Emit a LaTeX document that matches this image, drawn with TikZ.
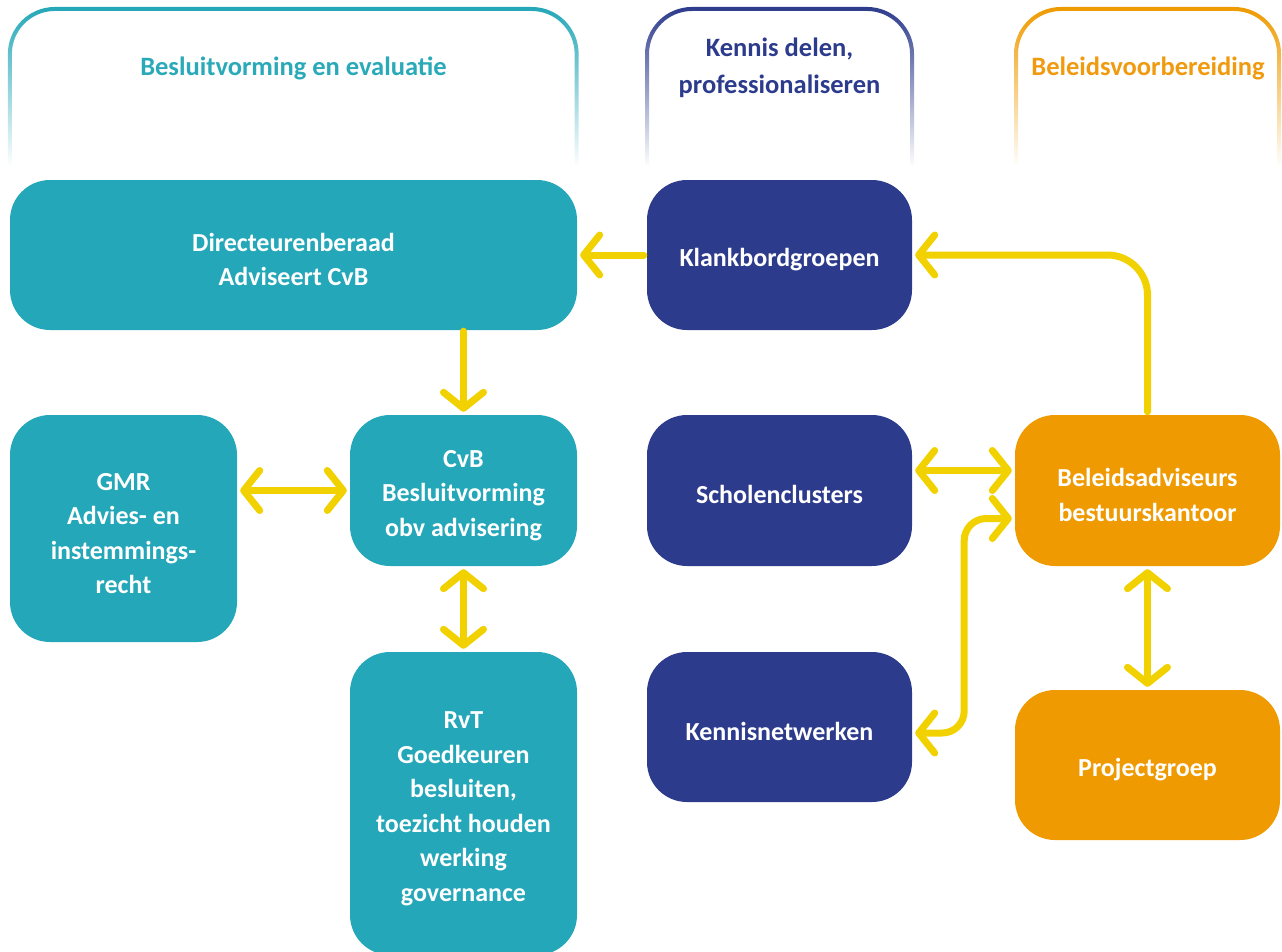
\documentclass[tikz,border=0pt]{standalone}
\usepackage{fontspec}
\setmainfont{Carlito}
\usetikzlibrary{arrows.meta,fadings}
\definecolor{cteal}{HTML}{24A7B8}
\definecolor{cnavy}{HTML}{2D3B8C}
\definecolor{corange}{HTML}{EE9A00}
\definecolor{cyellow}{HTML}{F2D100}
\definecolor{hteal}{HTML}{2AAAB9}
\definecolor{horange}{HTML}{F09A10}
\newcommand\topstrut{\rule{0pt}{27pt}}
\tikzfading[name=brfade, top color=transparent!0, bottom color=transparent!100]
\tikzset{
  box/.style={rounded corners=40pt, text=white, align=center,
    font=\bfseries\fontsize{26}{34.5}\selectfont, inner sep=0pt},
  tealbox/.style={box, fill=cteal},
  navybox/.style={box, fill=cnavy},
  orangebox/.style={box, fill=corange},
  bracket/.style={line width=4pt, rounded corners=45pt, path fading=brfade, fit fading=true},
  head/.style={font=\bfseries\fontsize{26.5}{37}\selectfont, align=center},
  arr/.style={draw=cyellow, line width=7pt, line cap=round, line join=round,
    >={Straight Barb[length=16pt,width=40pt,round]}},
}
\begin{document}
\begin{tikzpicture}[x=1pt,y=-1pt]
\useasboundingbox (0,0) rectangle (1282,951);
% header brackets
\draw[bracket, draw=cteal] (10,165) -- (10,9) -- (577,9) -- (577,165);
\draw[bracket, draw=cnavy] (647,165) -- (647,9) -- (912,9) -- (912,165);
\draw[bracket, draw=corange] (1016,165) -- (1016,9) -- (1279,9) -- (1279,165);
\node[head, text=hteal] (h1) at (293.5,68) {Besluitvorming en evaluatie};
\node[head, text=cnavy] (h2) at (779.5,68) {Kennis delen,\\professionaliseren};
\node[head, text=horange] (h3) at (1148,68) {Beleidsvoorbereiding};
% boxes
\node[tealbox, minimum width=567pt, minimum height=150pt] (dir) at (293.5,255) {\topstrut Directeurenberaad\\Adviseert CvB};
\node[navybox, minimum width=265pt, minimum height=150pt] (klank) at (779.5,255) {\topstrut Klankbordgroepen};
\node[tealbox, minimum width=227pt, minimum height=227pt] (gmr) at (123.5,528.5) {\topstrut GMR\\Advies- en\\instemmings-\\recht};
\node[tealbox, minimum width=227pt, minimum height=151pt] (cvb) at (463.5,490.5) {\topstrut CvB\\Besluitvorming\\obv advisering};
\node[tealbox, minimum width=227pt, minimum height=303pt] (rvt) at (463.5,803.5) {\topstrut RvT\\Goedkeuren\\besluiten,\\toezicht houden\\werking\\governance};
\node[navybox, minimum width=265pt, minimum height=151pt] (schol) at (779.5,490.5) {\topstrut Scholenclusters};
\node[navybox, minimum width=265pt, minimum height=150pt] (kennis) at (779.5,727) {\topstrut Kennisnetwerken};
\node[orangebox, minimum width=265pt, minimum height=151pt] (bel) at (1147.5,490.5) {\topstrut Beleidsadviseurs\\bestuurskantoor};
\node[orangebox, minimum width=265pt, minimum height=150pt] (proj) at (1147.5,765) {\topstrut Projectgroep};
% connectors
\draw[arr,->,shorten <=3pt,shorten >=3pt] (klank.west) -- (dir.east);
\draw[arr,->,rounded corners=40pt,shorten <=3pt,shorten >=3pt] (bel.north) |- (klank.east);
\draw[arr,->,shorten <=1pt,shorten >=3pt] (dir.south -| cvb.north) -- (cvb.north);
\draw[arr,<->,shorten <=3pt,shorten >=3pt] (gmr.east |- cvb.west) -- (cvb.west);
\draw[arr,<->,shorten <=3pt,shorten >=3pt] (cvb.south) -- (rvt.north);
\draw[arr,<->,shorten <=3pt,shorten >=3pt] ([yshift=20pt]schol.east) -- ([yshift=20pt]bel.west);
\draw[arr,<->,rounded corners=22pt,shorten <=3pt,shorten >=3pt] ([yshift=-6pt]kennis.east) -- ++(52,0) |- ([yshift=-28pt]bel.west);
\draw[arr,<->,shorten <=3pt,shorten >=3pt] (bel.south) -- (proj.north);
\end{tikzpicture}
\end{document}
